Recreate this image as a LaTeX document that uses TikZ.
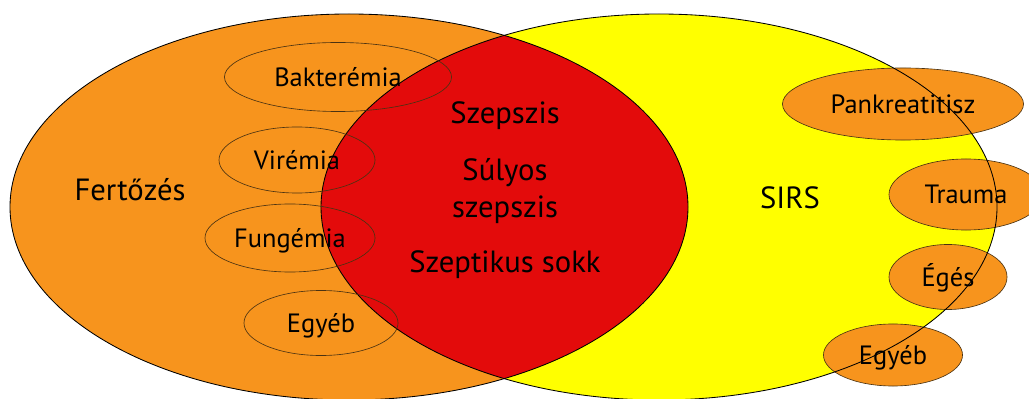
\documentclass[tikz,border=0pt]{standalone}
\usepackage{fontspec}
\setmainfont{PT Sans}
\usetikzlibrary{shapes.geometric}
\definecolor{infOrange} {HTML}{F7941D}
\definecolor{sepsRed}   {HTML}{E30B0B}
\definecolor{sirsYellow}{HTML}{FFFF00}
\definecolor{rimBrown}  {HTML}{4A3212}
\tikzset{
  subset/.style  ={ellipse, draw=rimBrown, line width=0.45pt, inner sep=0pt,
                   font=\fontsize{18.8}{20}\selectfont, text height=13.2pt, text depth=0pt},
  cause/.style   ={subset, fill=infOrange},
  setlabel/.style={anchor=base, inner sep=0pt, font=\fontsize{21.8}{24}\selectfont},
  rim/.style     ={draw=black, line width=0.6pt},
}
\begin{document}
\begin{tikzpicture}[x=0.025cm,y=-0.025cm]
  \useasboundingbox (0,0) rectangle (1029,399);
  % infection and SIRS, red where they overlap
  \fill[infOrange]  (349,207) ellipse [x radius=339, y radius=193];
  \fill[sirsYellow] (659,207) ellipse [x radius=338, y radius=193];
  \begin{scope}
    \clip (349,207) ellipse [x radius=339, y radius=193];
    \fill[sepsRed] (659,207) ellipse [x radius=338, y radius=193];
  \end{scope}

  \node[cause,minimum width=6.025cm,minimum height=1.8cm]   (pank)  at (903,104)   {Pankreatitisz};
  \node[cause,minimum width=3.85cm,minimum height=1.775cm]  (trau)  at (966,194.5) {Trauma};
  \node[cause,minimum width=2.95cm,minimum height=1.625cm]  (eges)  at (948,277)   {Égés};
  \node[cause,minimum width=3.475cm,minimum height=1.55cm]  (egyR)  at (893,355)   {Egyéb};

  \draw[rim] (349,207) ellipse [x radius=339, y radius=193];
  \draw[rim] (659,207) ellipse [x radius=338, y radius=193];

  \node[subset,minimum width=5.675cm,minimum height=1.725cm] (bakt) at (338,77)  {Bakterémia};
  \node[subset,minimum width=3.9cm,minimum height=1.65cm]    (vire) at (297,160) {Virémia};
  \node[subset,minimum width=4.25cm,minimum height=1.7cm]    (fung) at (290,238) {Fungémia};
  \node[subset,minimum width=3.85cm,minimum height=1.625cm]  (egyL) at (321,323) {Egyéb};

  \node[setlabel] (fert)  at (130,200) {Fertőzés};
  \node[setlabel] (sirs)  at (790,208) {SIRS};
  \node[setlabel] (szep)  at (505,124) {Szepszis};
  \node[setlabel] (suly)  at (505,181) {Súlyos};
  \node[setlabel] (suly2) at (505,218) {szepszis};
  \node[setlabel] (sokk)  at (505,272) {Szeptikus sokk};
\end{tikzpicture}
\end{document}
